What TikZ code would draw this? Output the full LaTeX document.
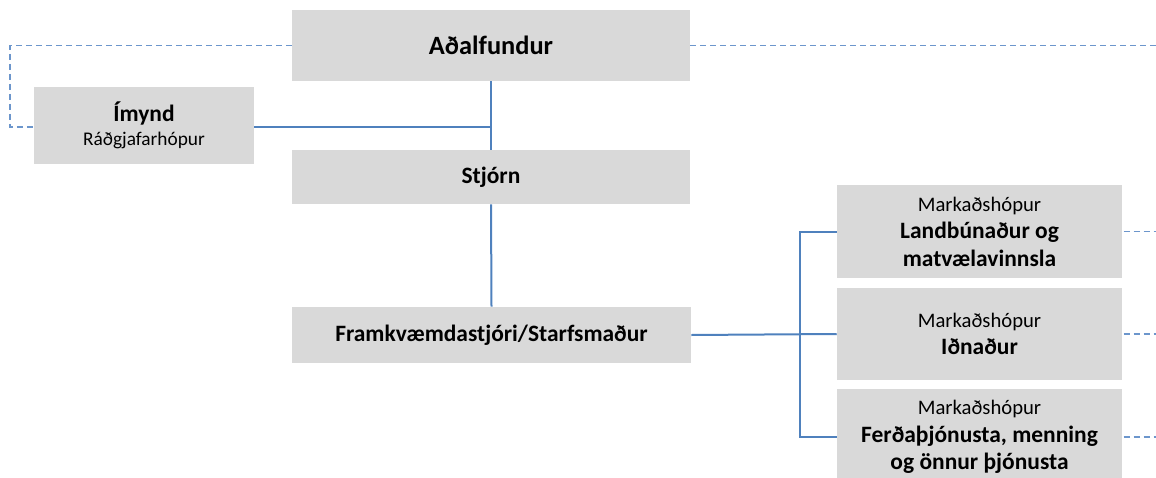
\documentclass[tikz,border=0pt]{standalone}
\usepackage{fontspec}
\setmainfont{Carlito}
\usetikzlibrary{calc}
\definecolor{boxgray}{HTML}{D9D9D9}
\definecolor{linkblue}{HTML}{4F81BD}
\definecolor{dashblue}{HTML}{6C96CC}
\newcommand{\grp}[2][15.5]{{\fontsize{#1}{20.6}\selectfont\mdseries #2}}

\begin{document}
\begin{tikzpicture}[x=.75pt,y=-.75pt,
  orgbox/.style={fill=boxgray,inner sep=0pt,align=center,text=black,
    font=\fontsize{17.6}{20.6}\selectfont\bfseries},
  link/.style={draw=linkblue,line width=1.5pt},
  dlink/.style={draw=dashblue,line width=1.4pt,dash pattern=on 4.5pt off 3pt}]
\useasboundingbox (0,0) rectangle (1156,478);
% boxes
\node[orgbox,minimum width=298.5pt,minimum height=53.25pt,
  font=\fontsize{19.8}{23}\selectfont\bfseries] (adal) at (491,45.5) {A\dh alfundur};
\node[orgbox,minimum width=165pt,minimum height=57.75pt,
  font=\fontsize{17.6}{17.6}\selectfont\bfseries] (imynd) at (144,125.5) {\'Imynd\\\grp[14.5]{R\'a\dh gjafarh\'opur}};
\node[orgbox,minimum width=298.5pt,minimum height=40.5pt] (stjorn) at (491,177) {Stj\'orn};
\node[orgbox,minimum width=299.25pt,minimum height=42pt] (framkv) at (491.5,335) {Framkv\ae mdastj\'ori/Starfsma\dh ur};
\node[orgbox,minimum width=213.75pt,minimum height=69.75pt] (mark1) at (979.5,231.5) {\grp{Marka\dh sh\'opur}\\Landb\'una\dh ur og\\matv\ae lavinnsla};
\node[orgbox,minimum width=213.75pt,minimum height=69pt] (mark2) at (979.5,334) {\grp{Marka\dh sh\'opur}\\I\dh na\dh ur};
\node[orgbox,minimum width=213.75pt,minimum height=72pt] (mark3) at (979.5,437) {\grp{Marka\dh sh\'opur}\\Fer\dh a\th j\'onusta, menning\\og \"onnur \th j\'onusta};
% free ends
\coordinate (lft) at (10,47);
\coordinate (rgt) at (1160,0);
\coordinate (brk) at (800,0);
% solid links
\draw[link] (adal.south) -- (stjorn.north);
\draw[link] ([yshift=-1.1pt]imynd.east) -- ([yshift=-1.1pt]imynd.east -| adal.south);
\draw[link] (stjorn.south) -- (framkv.north);
\draw[link] (framkv.east) -- (mark2.west);
\draw[link] (mark1.west) -- (mark1.west -| brk) -- (mark3.west -| brk) -- (mark3.west);
% dashed links
\draw[dlink] (adal.west) -- (adal.west -| lft) -- ([yshift=-1.1pt]imynd.west -| lft) -- ([yshift=-1.1pt]imynd.west);
\draw[dlink] (adal.east) -- (adal.east -| rgt);
\foreach \m in {mark1,mark2,mark3}
  \draw[dlink] ([xshift=1pt]\m.east) -- (\m.east -| rgt);
\end{tikzpicture}
\end{document}
